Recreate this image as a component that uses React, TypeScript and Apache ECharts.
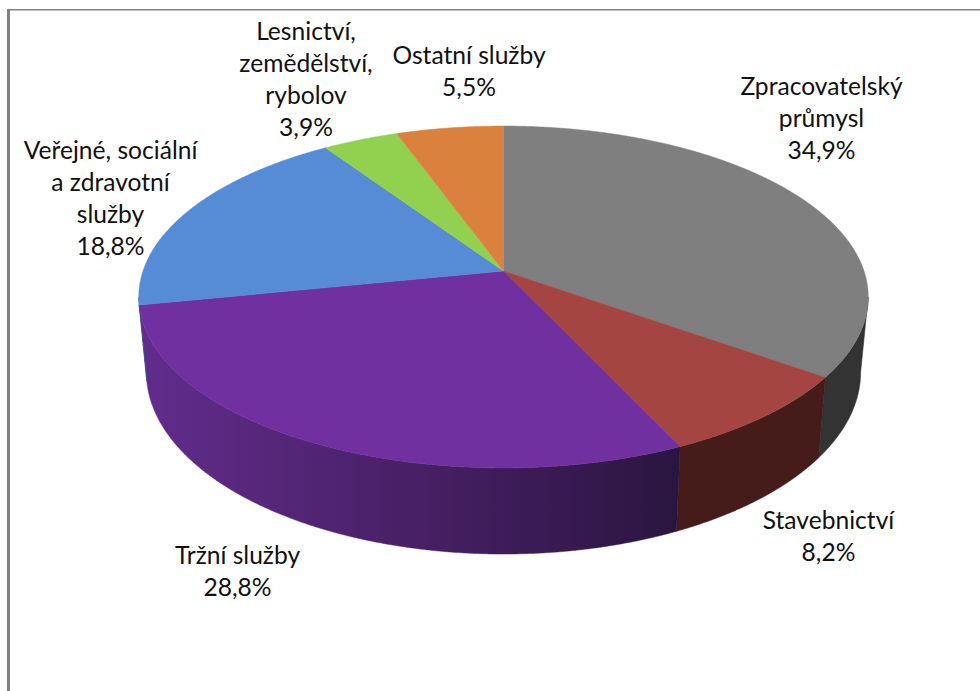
import React, { useEffect, useRef } from "react";
import * as echarts from "echarts";

const categories = [
  "Zpracovatelský\nprůmysl",
  "Stavebnictví",
  "Tržní služby",
  "Veřejné, sociální\na zdravotní\nslužby",
  "Lesnictví,\nzemědělství,\nrybolov",
  "Ostatní služby",
];
const shares = [34.9, 8.2, 28.8, 18.8, 3.9, 5.5];
const shareLabels = ["34,9%", "8,2%", "28,8%", "18,8%", "3,9%", "5,5%"];

const topColors = ["#7f7f7f", "#a54542", "#7030a0", "#558cd5", "#92d050", "#da813d"];

const PERSP = 0.152;
const TOP = { cx: 503.5, cy: 271, a: 360.5, b: 167 };
const BOTTOM = { cx: 503.5, cy: 344.6, a: 353, b: 177.6 };
const LABEL_CENTERS = [
  [821.5, 117],
  [828.5, 535],
  [237.5, 570],
  [110.5, 197],
  [306, 78],
  [469, 70],
];
const FONT = "Lato, 'Open Sans', sans-serif";
const FONT_SIZE = 24.6;
const LINE_H = 32;

const total = shares.reduce((s, v) => s + v, 0);
const rows = shares.map((v, i) => {
  const before = shares.slice(0, i).reduce((s, x) => s + x, 0);
  return [i, (before / total) * Math.PI * 2, ((before + v) / total) * Math.PI * 2];
});

function project(p: typeof TOP, ang: number): number[] {
  const X = Math.sin(ang);
  const Y = -Math.cos(ang);
  const w = 1 - PERSP * Y;
  return [p.cx + (p.a * X) / w, p.cy + (p.b * Y) / w];
}
function arc(p: typeof TOP, a0: number, a1: number): number[][] {
  const n = Math.max(2, Math.ceil(Math.abs(a1 - a0) / 0.004));
  const out: number[][] = [];
  for (let i = 0; i <= n; i++) out.push(project(p, a0 + ((a1 - a0) * i) / n));
  return out;
}

const VIS0 = Math.acos(-PERSP);
const VIS1 = Math.PI * 2 - VIS0;

function wallFill(i: number): any {
  if (i === 0) return "#333333";
  if (i === 1) return "#451c1a";
  if (i === 2)
    return new echarts.graphic.LinearGradient(
      140,
      0,
      680,
      0,
      [
        { offset: 0, color: "#622c8c" },
        { offset: 0.5, color: "#482066" },
        { offset: 1, color: "#2a1540" },
      ],
      true
    );
  return i === 3 ? "#32537f" : i === 4 ? "#577c30" : "#824d24";
}

export default function App() {
  const ref = useRef<HTMLDivElement>(null);
  useEffect(() => {
    document.body.style.margin = "0";
    const chart = echarts.init(ref.current!, undefined, { renderer: "svg" });
    chart.setOption({
      animation: false,
      backgroundColor: "#ffffff",
      graphic: [
        { type: "rect", shape: { x: 7, y: 9, width: 3, height: 682 }, style: { fill: "#808080" } },
        { type: "rect", shape: { x: 7, y: 9, width: 973, height: 1.5 }, style: { fill: "#808080" } },
      ],
      series: [
        {
          type: "custom",
          coordinateSystem: "none",
          data: rows,
          z: 1,
          renderItem: (_: any, api: any) => {
            const i = api.value(0);
            const a0 = Math.max(api.value(1), VIS0);
            const a1 = Math.min(api.value(2), VIS1);
            if (a1 <= a0) return { type: "group", children: [] };
            const pts = arc(TOP, a0, a1).concat(arc(BOTTOM, a1, a0));
            const fill = wallFill(i);
            return {
              type: "polygon",
              shape: { points: pts },
              style: { fill, stroke: fill, lineWidth: 0.5 },
            };
          },
        },
        {
          type: "custom",
          coordinateSystem: "none",
          data: rows,
          z: 2,
          renderItem: (_: any, api: any) => {
            const i = api.value(0);
            const pts = [[TOP.cx, TOP.cy]].concat(arc(TOP, api.value(1), api.value(2)));
            return {
              type: "polygon",
              shape: { points: pts },
              style: { fill: topColors[i], stroke: topColors[i], lineWidth: 0.5 },
            };
          },
        },
        {
          type: "custom",
          coordinateSystem: "none",
          data: rows,
          z: 3,
          renderItem: (_: any, api: any) => {
            const i = api.value(0);
            return {
              type: "text",
              x: LABEL_CENTERS[i][0],
              y: LABEL_CENTERS[i][1],
              style: {
                text: categories[i] + "\n" + shareLabels[i],
                fill: "#111111",
                font: `${FONT_SIZE}px ${FONT}`,
                lineHeight: LINE_H,
                align: "center",
                verticalAlign: "middle",
              },
            };
          },
        },
      ],
    });
    return () => chart.dispose();
  }, []);
  return <div ref={ref} style={{ position: "fixed", left: 0, top: 0, width: 980, height: 691 }} />;
}
